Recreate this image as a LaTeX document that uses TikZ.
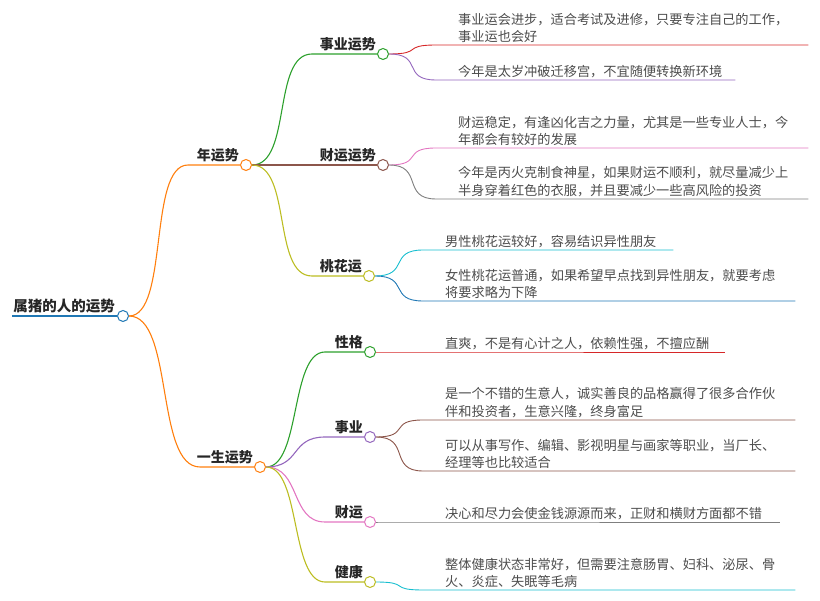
\documentclass[tikz,border=0pt]{standalone}
\usepackage{fontspec}
\setmainfont{Noto Sans CJK SC}
\usetikzlibrary{positioning}
\definecolor{cBlue}{HTML}{1F77B4}
\definecolor{cOrange}{HTML}{FF7F0E}
\definecolor{cGreen}{HTML}{2CA02C}
\definecolor{cRed}{HTML}{D62728}
\definecolor{cPurple}{HTML}{9467BD}
\definecolor{cBrown}{HTML}{8C564B}
\definecolor{cPink}{HTML}{E377C2}
\definecolor{cGray}{HTML}{7F7F7F}
\definecolor{cOlive}{HTML}{BCBD22}
\definecolor{cCyan}{HTML}{17BECF}
\tikzset{
  dot/.style={circle, draw=#1, fill=white, line width=1pt, minimum size=11pt, inner sep=0pt},
  lab/.style={font=\bfseries\fontsize{14}{16}\selectfont, text=black!85, inner sep=1pt, anchor=south east},
  leaf/.style={font=\fontsize{13.2}{17.5}\selectfont, text=black!70, align=left, inner xsep=0pt, inner ysep=2pt, anchor=south west, text width=#1},
  edge/.style={draw=#1, line width=1.1pt},
}
\begin{document}
\begin{tikzpicture}[x=1pt, y=-1pt]
    \useasboundingbox (0,0) rectangle (820,601);

    % Root
    \node[dot=cBlue] (root) at (123,316) {};
    \coordinate (rootL) at (12,316);
    \node[lab, font=\bfseries\fontsize{14.5}{16}\selectfont] at (116,314) {属猪的人的运势};
    \draw[edge=cBlue, line width=2.5pt] (rootL) -- (root.west);

    % Level 1
    \node[dot=cOrange] (nian) at (246,165) {};
    \node[lab] at (240,163) {年运势};
    \coordinate (nianL) at (188,165);
    \node[dot=cOrange] (yisheng) at (260,467) {};
    \node[lab] at (254,465) {一生运势};
    \coordinate (yishengL) at (200,467);
    \draw[edge=cOrange] (root.east) .. controls +(40,0) and +(-40,0) .. (nianL) -- (nian.west);
    \draw[edge=cOrange] (root.east) .. controls +(45,0) and +(-45,0) .. (yishengL) -- (yisheng.west);

    % Level 2 under nian
    \node[dot=cGreen] (shiyeys) at (383,54) {};
    \node[lab] at (377,52) {事业运势};
    \coordinate (shiyeysL) at (312,54);
    \node[dot=cBrown] (caiyunys) at (383,165) {};
    \node[lab] at (377,163) {财运运势};
    \coordinate (caiyunysL) at (312,165);
    \node[dot=cOlive] (taohua) at (369,276) {};
    \node[lab] at (363,274) {桃花运};
    \coordinate (taohuaL) at (312,276);
    \draw[edge=cGreen] (nian.east) .. controls +(40,0) and +(-40,0) .. (shiyeysL) -- (shiyeys.west);
    \draw[edge=cBrown] (nian.east) -- (caiyunys.west);
    \draw[edge=cOlive] (nian.east) .. controls +(40,0) and +(-40,0) .. (taohuaL) -- (taohua.west);

    % Level 2 under yisheng
    \node[dot=cGreen] (xingge) at (370,352) {};
    \node[lab] at (364,350) {性格};
    \coordinate (xinggeL) at (325,352);
    \node[dot=cPurple] (shiye) at (370,437) {};
    \node[lab] at (364,435) {事业};
    \coordinate (shiyeL) at (325,437);
    \node[dot=cPink] (caiyun) at (370,522) {};
    \node[lab] at (364,520) {财运};
    \coordinate (caiyunL) at (325,522);
    \node[dot=cOlive] (jiankang) at (370,582) {};
    \node[lab] at (364,580) {健康};
    \coordinate (jiankangL) at (325,582);
    \draw[edge=cGreen] (yisheng.east) .. controls +(35,0) and +(-35,0) .. (xinggeL) -- (xingge.west);
    \draw[edge=cPurple] (yisheng.east) .. controls +(35,0) and +(-35,0) .. (shiyeL) -- (shiye.west);
    \draw[edge=cPink] (yisheng.east) .. controls +(35,0) and +(-35,0) .. (caiyunL) -- (caiyun.west);
    \draw[edge=cOlive] (yisheng.east) .. controls +(35,0) and +(-35,0) .. (jiankangL) -- (jiankang.west);

    % Leaves
    \node[leaf=350pt] (l1) at (458,45) {事业运会进步，适合考试及进修，只要专注自己的工作，\\事业运也会好};
    \node[leaf=277pt] (l2) at (458,80) {今年是太岁冲破迁移宫，不宜随便转换新环境};
    \node[leaf=350pt] (l3) at (458,148) {财运稳定，有逢凶化吉之力量，尤其是一些专业人士，今\\年都会有较好的发展};
    \node[leaf=350pt] (l4) at (458,199) {今年是丙火克制食神星，如果财运不顺利，就尽量减少上\\半身穿着红色的衣服，并且要减少一些高风险的投资};
    \node[leaf=228pt] (l5) at (445,250) {男性桃花运较好，容易结识异性朋友};
    \node[leaf=350pt] (l6) at (445,301) {女性桃花运普通，如果希望早点找到异性朋友，就要考虑\\将要求略为下降};
    \node[leaf=280pt] (l7) at (445,352) {直爽，不是有心计之人，依赖性强，不擅应酬};
    \node[leaf=350pt] (l8) at (445,420) {是一个不错的生意人，诚实善良的品格赢得了很多合作伙\\伴和投资者，生意兴隆，终身富足};
    \node[leaf=350pt] (l9) at (445,471) {可以从事写作、编辑、影视明星与画家等职业，当厂长、\\经理等也比较适合};
    \node[leaf=335pt] (l10) at (445,522) {决心和尽力会使金钱源源而来，正财和横财方面都不错};
    \node[leaf=350pt] (l11) at (445,590) {整体健康状态非常好，但需要注意肠胃、妇科、泌尿、骨\\火、炎症、失眠等毛病};
    \foreach \p/\l/\c in {shiyeys/l1/cRed, shiyeys/l2/cPurple, caiyunys/l3/cPink, caiyunys/l4/cGray,
                          taohua/l5/cCyan, taohua/l6/cBlue, shiye/l8/cBrown, shiye/l9/cBrown,
                          caiyun/l10/cGray, jiankang/l11/cCyan}
      \draw[edge=\c, line width=0.9pt] (\p.east) .. controls +(35,0) and +(-35,0) .. ([xshift=-22pt]\l.south west) -- (\l.south east);
    \draw[edge=cRed, line width=0.9pt] (xingge.east) -- (l7.south west) -- (l7.south east);
\end{tikzpicture}
\end{document}
